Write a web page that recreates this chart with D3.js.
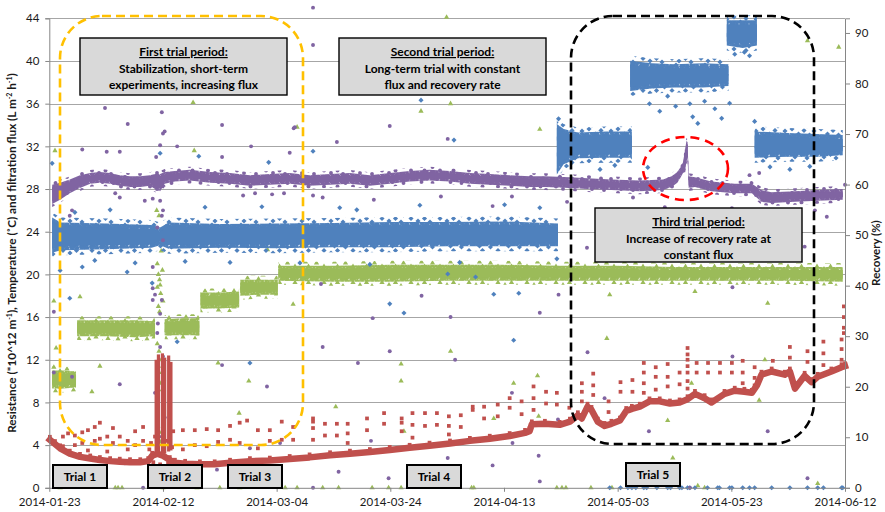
<!DOCTYPE html>
<html>
<head>
<meta charset="utf-8">
<script src="https://cdn.jsdelivr.net/npm/d3@7"></script>
<style>
  body { margin: 0; background: #fff; }
  svg { display: block; font-family: Lato, "Noto Sans", "Liberation Sans", sans-serif; }
</style>
</head>
<body>
<svg id="chart" width="885" height="512"></svg>
<script>
// ---------- axis definitions ----------
const startDate = "2014-01-23";
const endDate = "2014-06-12";
const xTickLabels = ["2014-01-23", "2014-02-12", "2014-03-04", "2014-03-24", "2014-04-13", "2014-05-03", "2014-05-23", "2014-06-12"];
const leftTicks = [0, 4, 8, 12, 16, 20, 24, 28, 32, 36, 40, 44];
const rightTicks = [0, 10, 20, 30, 40, 50, 60, 70, 80, 90];
const leftMax = 44;
const rightMax = 92.9;

// ---------- Recovery (%) - right axis; days since start, dense band low/high, null = break ----------
const recDay = [0.5, 2, 10, 18, 19.5, 21, 30, 40, 50, 60, 70, 80, 89.5, null, 89.3, 90.5, 93, 98, 102.5, null, 102.2, 106, 110, 115, 119.5, null, 119.2, 122, 124.5, null, 124.1, 130, 135, 139.6];
const recLo = [46.5, 47.0, 47.2, 47.5, 48.0, 47.3, 47.5, 47.4, 47.6, 47.6, 47.8, 47.8, 47.8, null, 62.0, 64.0, 65.2, 65.3, 65.3, null, 78.5, 79.0, 79.2, 79.2, 79.5, null, 87.5, 87.0, 87.5, null, 65.3, 65.5, 65.5, 65.8];
const recHi = [53.5, 52.5, 52.3, 52.0, 51.5, 52.5, 52.2, 52.3, 52.4, 52.6, 52.6, 52.7, 52.3, null, 72.0, 71.0, 70.3, 70.5, 70.5, null, 84.5, 84.0, 83.8, 84.0, 83.8, null, 92.5, 92.5, 92.5, null, 70.5, 70.2, 70.0, 69.8];
// isolated recovery readings [day, %]
const recPoints = [
  [0.5, 64.2], [19.5, 66.2], [26.3, 65.6], [38.6, 64.4], [65.4, 76.7], [71.2, 68.8], [46.4, 66.6],
  [3.6, 37.5], [5.8, 43.7], [54.1, 55.0], [59.9, 36.4], [62.4, 34.6], [70.1, 42.3], [75.0, 41.7],
  [78.2, 38.3], [82.6, 38.5], [89.3, 45.3], [81.7, 29.2], [35.3, 24.7], [22.5, 28.9], [18.1, 40.5],
  [13.7, 42.7], [136.4, 57.9], [105.3, 63.4], [113.2, 73.4], [114.1, 72.1], [118.3, 73.1], [119.7, 76.1],
  [1.9, 43.0], [4.5, 54.5], [8.0, 45.0], [10.7, 55.0], [15.1, 44.5], [23.9, 44.8], [27.4, 55.5],
  [31.8, 44.6], [37.4, 55.6], [44.1, 44.5], [51.1, 55.4], [56.4, 44.2], [65.2, 55.9], [72.2, 44.6],
  [80.1, 56.0], [86.3, 55.4], [105.6, 76.0], [107.4, 74.5], [108.8, 77.5], [110.2, 75.5], [112.7, 76.0],
  [115.3, 76.5], [117.1, 75.0], [120.6, 85.8], [122.3, 86.2], [123.2, 85.5], [96.9, 63.0], [99.5, 63.8],
  [126.8, 63.5], [130.3, 63.0], [133.8, 63.6], [124.1, 72.5], [89.6, 73.0], [90.2, 60.5]
];
// recovery logged as zero
const recZeroDays = [98.6, 100.5, 101.8, 102.5, 103.2, 104.6, 105.1, 106.9, 108.8, 109.3, 110.9, 111.3, 112.3, 112.7, 113.6, 115.8, 117.6, 117.9, 119.7, 120.1, 122.0, 123.2, 124.1, 127.1, 130.3, 133.4, 135.2, 136.2, 139.4, 139.6];

// ---------- Filtration flux (L m-2 h-1) - left axis ----------
const fluxDay = [0.5, 2.5, 4.7, null, 4.9, 10, 15, 18.6, null, 20.3, 23, 26.4, null, 26.6, 30, 33.4, null, 33.6, 37, 40.2, null, 40.3, 50, 60, 70, 80, 90, 100, 110, 120, 130, 139.6];
const fluxLo = [9.3, 9.3, 9.4, null, 14.2, 14.2, 14.1, 14.2, null, 14.3, 14.3, 14.3, null, 16.8, 16.8, 16.9, null, 18.0, 18.1, 18.1, null, 19.4, 19.3, 19.3, 19.4, 19.4, 19.4, 19.4, 19.4, 19.4, 19.4, 19.3];
const fluxHi = [11.0, 11.0, 10.9, null, 15.7, 15.7, 15.7, 15.6, null, 15.8, 15.9, 15.9, null, 18.3, 18.3, 18.4, null, 19.5, 19.5, 19.5, null, 20.8, 20.8, 20.9, 20.9, 20.9, 20.8, 20.8, 20.7, 20.7, 20.7, 20.7];
const fluxPoints = [
  [1.0, 31.6], [25.3, 36.1], [25.5, 31.6], [43.6, 33.8], [69.9, 44.1], [65.4, 35.3], [70.6, 36.0], [86.3, 33.6],
  [50.4, 7.6], [61.9, 11.6], [61.9, 10.0], [70.6, 12.8], [62.4, 5.3], [78.2, 6.5], [81.7, 9.8], [85.9, 10.5],
  [86.1, 6.7], [108.8, 6.3], [113.0, 9.8], [124.9, 8.2], [125.9, 12.0], [109.7, 2.8], [135.2, 0.4], [114.1, 0.2],
  [98.1, 14.0], [98.6, 18.1], [113.6, 18.4], [126.4, 17.3], [133.4, 41.9], [138.9, 41.3], [0.8, 17.5], [5.4, 17.9],
  [38.4, 22.3], [42.9, 17.2], [1.2, 13.1], [0.8, 11.3], [8.9, 11.4], [7.5, 9.0], [29.7, 11.7], [35.1, 10.0], [33.4, 7.0],
  [19.0, 21.0], [19.2, 20.0], [19.4, 19.5], [19.0, 18.8], [19.6, 18.2], [19.2, 17.0], [19.4, 16.5], [19.0, 13.5],
  [19.3, 12.8], [19.7, 12.0], [19.2, 11.4], [19.8, 10.8], [20.1, 10.2], [19.5, 9.8], [19.9, 9.2], [19.1, 5.8],
  [19.4, 5.2], [19.8, 4.8], [20.2, 4.6], [19.6, 4.3], [18.9, 26.0], [19.3, 25.5], [19.7, 22.2], [19.9, 20.4],
  [19.5, 19.0], [20.0, 17.5]
];
const fluxZeroDays = [1.9, 11.6, 12.1, 12.8, 20.0, 26.0, 30.0, 33.5, 41.5, 43.6, 48.1, 50.9, 56.8, 59.7, 61.9, 74.3, 74.7, 89.3, 90.2, 90.9, 95.3, 99.0, 115.3];

// ---------- Temperature (°C) - left axis ----------
const tempDay = [0.5, 1.9, 3.6, 5.4, 7.2, 8.9, 10.7, 12.4, 14.2, 16.0, 17.7, 18.6, 19.5, 20.3, 22.1, 24.7, 28.3, 31.8, 35.3, 38.8, 42.3, 45.8, 49.4, 52.9, 56.4, 59.9, 63.4, 66.9, 70.5, 74.0, 77.5, 81.0, 84.5, 87.2, 91.6, 94.7, 98.9, 103.9, 108.0, 109.5, 110.5, 111.0, 111.5, 111.8, 112.1, 112.3, 112.5, 113.6, 116.5, 120.6, 123.6, 125.3, 127.1, 131.2, 135.2, 139.6];
const tempLo = [26.6, 27.0, 27.6, 28.1, 28.5, 28.6, 28.5, 28.3, 28.2, 28.2, 28.3, 28.0, 27.8, 28.5, 28.7, 28.8, 28.6, 28.5, 28.3, 28.4, 28.5, 28.3, 28.4, 28.5, 28.3, 28.5, 28.7, 28.8, 28.7, 28.5, 28.4, 28.3, 28.2, 28.2, 28.1, 28.0, 27.9, 27.8, 27.9, 28.2, 28.6, 29.0, 29.5, 29.6, 30.5, 31.0, 28.1, 28.2, 27.8, 27.6, 27.6, 26.8, 26.7, 26.8, 26.9, 27.0];
const tempHi = [28.4, 28.6, 28.9, 29.3, 29.5, 29.6, 29.5, 29.3, 29.2, 29.2, 29.3, 29.4, 29.4, 29.6, 29.7, 29.8, 29.6, 29.5, 29.3, 29.4, 29.5, 29.3, 29.4, 29.5, 29.3, 29.5, 29.7, 29.8, 29.7, 29.5, 29.4, 29.3, 29.2, 29.2, 29.1, 29.0, 28.9, 28.8, 28.9, 29.2, 29.6, 30.0, 30.5, 31.5, 32.5, 32.4, 29.2, 29.1, 28.7, 28.5, 28.5, 27.9, 27.7, 27.8, 27.9, 28.0];
const tempPoints = [
  [9.8, 35.6], [13.8, 34.1], [5.8, 31.7], [10.1, 31.5], [12.4, 31.5], [19.8, 35.2], [20.0, 33.2], [20.3, 33.4],
  [19.5, 32.1], [22.5, 32.0], [30.4, 34.0], [30.4, 31.0], [35.5, 32.0], [42.3, 31.4], [43.0, 33.7], [18.8, 31.0],
  [46.4, 45.0], [46.4, 41.5], [43.2, 33.8], [59.9, 33.9], [50.6, 32.4], [70.1, 32.7], [3.6, 25.5], [4.0, 26.0],
  [11.6, 27.6], [12.4, 27.2], [16.8, 26.9], [34.1, 27.4], [36.2, 27.6], [39.2, 27.5], [41.3, 27.6], [0.8, 16.5],
  [46.4, 27.4], [48.1, 27.2], [57.1, 27.0], [68.9, 27.3], [78.0, 26.4], [81.4, 27.3], [65.5, 18.0], [47.8, 19.1],
  [56.9, 15.9], [70.6, 16.0], [86.3, 16.4], [89.6, 18.1], [94.6, 22.5], [91.1, 26.8], [48.1, 13.2], [59.9, 12.8],
  [54.3, 11.7], [71.4, 12.0], [56.6, 4.4], [50.9, 1.5], [59.7, 0.9], [70.1, 2.8], [78.0, 2.1], [81.4, 8.9],
  [81.5, 4.2], [86.1, 3.0], [86.3, 0.6], [89.5, 6.4], [94.7, 12.7], [46.4, 0], [0.8, 10.8], [4.0, 10.4],
  [12.4, 9.7], [30.4, 11.5], [38.3, 9.5], [13.3, 2.3], [29.5, 1.7], [35.3, 3.7], [40.6, 4.2], [16.5, 0],
  [97.7, 8.4], [105.5, 5.3], [120.2, 12.3], [126.4, 5.3], [133.4, 0.9], [112.7, 0], [132.9, 22.6], [102.7, 27.2],
  [106.5, 27.9], [108.3, 26.3], [123.2, 29.3], [124.9, 29.5], [134.7, 26.0], [136.8, 25.4], [140.0, 28.4],
  [118.8, 25.9], [120.1, 26.2], [120.2, 18.8],
  [18.2, 27.1], [19.5, 26.9], [19.0, 24.4], [19.8, 25.5], [20.0, 26.0], [18.2, 18.7], [18.6, 18.1], [18.2, 17.6],
  [19.8, 17.6], [19.5, 16.3], [19.1, 15.4], [19.0, 14.5], [19.5, 13.2], [20.0, 12.3], [20.0, 11.7], [18.6, 8.9],
  [20.3, 6.6], [19.8, 4.8], [20.0, 3.8], [18.2, 20.7], [20.0, 23.2]
];

// ---------- Membrane resistance (*10^12 m-1) - left axis ----------
const resDay = [0.1, 1.0, 1.9, 3.6, 5.4, 7.2, 8.9, 10.7, 12.4, 14.2, 16.0, 17.4, 18.1, 19.0, 20.0, 21.2, 22.1, 23.9, 26.5, 29.1, 31.8, 35.3, 38.8, 42.3, 45.8, 49.4, 52.9, 56.4, 59.9, 63.4, 66.9, 70.5, 74.0, 77.5, 81.0, 83.7, 84.5, 84.9, 87.2, 89.8, 91.6, 93.0, 93.7, 94.7, 95.4, 96.5, 97.7, 98.9, 100.4, 101.5, 102.5, 103.9, 105.6, 107.4, 109.2, 110.9, 112.3, 113.6, 115.3, 116.5, 118.8, 120.6, 122.3, 123.6, 124.5, 125.3, 127.1, 129.4, 130.3, 131.2, 132.9, 134.1, 135.2, 137.6, 139.4, 140.0];
const resVal = [4.5, 4.1, 3.7, 3.2, 2.9, 2.75, 2.6, 2.5, 2.45, 2.4, 2.4, 2.5, 3.0, 3.2, 3.0, 2.6, 2.35, 2.25, 2.2, 2.2, 2.35, 2.5, 2.55, 2.7, 2.85, 3.05, 3.2, 3.35, 3.55, 3.75, 3.95, 4.15, 4.4, 4.6, 4.85, 5.15, 5.3, 5.95, 6.0, 5.9, 6.2, 6.8, 6.5, 7.6, 7.3, 6.2, 5.8, 6.0, 6.3, 7.2, 7.4, 7.6, 8.1, 8.1, 7.9, 8.0, 8.3, 8.8, 8.4, 8.0, 8.8, 9.1, 9.0, 8.9, 9.6, 10.6, 10.9, 10.6, 10.9, 9.3, 10.5, 9.9, 10.4, 10.9, 11.3, 11.4];
// short-term experiment excursions (trial 2): day, low, high
const resSpikeDay = [18.8, 19.2, 19.9, 20.3, 21.0, 21.4];
const resSpikeLow = [3.2, 3.0, 3.0, 3.2, 3.4, 3.5];
const resSpikeTop = [12.0, 12.5, 12.6, 12.2, 12.4, 11.8];
// readings taken during cleaning / backwash cycles [day, value]
const resPoints = [
  [2.4, 4.8], [2.4, 3.9], [3.3, 5.1], [4.5, 4.9], [4.5, 4.0], [5.8, 5.2], [5.8, 4.2], [6.8, 5.4], [6.8, 3.5],
  [8.0, 5.7], [8.0, 4.4], [8.9, 6.1], [8.9, 4.6], [10.2, 4.8], [10.2, 3.4], [11.2, 5.6], [11.2, 4.2], [12.4, 4.8],
  [13.8, 4.4], [13.8, 3.6], [15.1, 5.3], [15.1, 4.0], [16.5, 5.7], [16.5, 4.4], [21.8, 5.3], [23.5, 5.4], [23.5, 3.6],
  [25.6, 5.4], [25.6, 4.0], [27.7, 5.5], [27.7, 3.9], [29.7, 5.4], [29.7, 4.3], [31.8, 5.8], [31.8, 4.5], [33.5, 6.1],
  [33.5, 4.2], [34.8, 6.3], [36.7, 5.4], [36.7, 3.7], [38.8, 5.4], [38.8, 4.4], [40.9, 6.2], [40.9, 4.5], [42.9, 5.7],
  [42.9, 4.5], [46.4, 6.5], [46.4, 6.2], [46.4, 5.6], [46.4, 4.5], [48.5, 6.0], [48.5, 4.9], [50.6, 6.0], [50.6, 4.9],
  [52.5, 6.0], [52.5, 5.1], [52.5, 4.2], [55.9, 6.5], [55.9, 5.4], [58.9, 7.0], [58.9, 6.0], [62.0, 6.5], [62.0, 6.1],
  [62.0, 5.3], [63.9, 7.0], [63.9, 5.9], [63.9, 4.7], [66.1, 7.0], [66.1, 5.8], [68.2, 7.0], [68.2, 5.9], [70.3, 6.7],
  [70.3, 5.8], [70.3, 5.0], [72.4, 6.8], [72.4, 5.7], [74.5, 7.6], [74.5, 7.3], [76.5, 7.6], [76.5, 6.5], [78.9, 7.8],
  [78.9, 6.7], [81.0, 8.4], [81.0, 7.5], [83.1, 8.1], [83.1, 6.9], [85.2, 9.5], [85.2, 8.4], [85.2, 7.3], [87.4, 9.0],
  [87.4, 7.9], [89.3, 8.9], [89.3, 7.8], [91.5, 7.5], [93.7, 9.8], [93.7, 9.0], [93.7, 8.1], [95.7, 10.7], [95.7, 9.6],
  [95.7, 8.7], [98.4, 8.1], [98.4, 7.1], [100.5, 9.9], [100.5, 9.0], [102.6, 10.1], [102.6, 9.0], [104.6, 11.7],
  [104.6, 10.8], [104.6, 9.8], [104.6, 8.9], [106.7, 11.3], [106.7, 10.4], [106.7, 9.2], [108.8, 11.6], [108.8, 10.4],
  [108.8, 9.5], [110.9, 10.8], [110.9, 9.7], [112.3, 13.1], [112.3, 12.5], [112.3, 12.0], [112.3, 11.4], [112.3, 10.8],
  [112.3, 10.0], [112.3, 9.3], [113.9, 11.7], [113.9, 10.8], [115.9, 11.7], [115.9, 10.8], [118.0, 11.7], [118.0, 10.8],
  [120.1, 11.7], [120.1, 10.8], [122.0, 11.9], [122.0, 10.8], [122.0, 9.8], [124.1, 11.3], [124.1, 10.3], [124.1, 9.6],
  [127.3, 11.9], [130.3, 13.2], [130.3, 12.2], [133.4, 12.8], [133.4, 11.8], [136.2, 13.7], [136.2, 12.6], [136.2, 11.5],
  [139.4, 13.9], [139.4, 13.0], [139.4, 12.0], [139.8, 17.0], [139.8, 16.0], [139.8, 15.0], [139.8, 14.5],
  [17.6, 3.6], [17.9, 4.2], [18.3, 2.4], [19.5, 2.2], [20.6, 4.4], [21.6, 3.8], [22.0, 2.0], [18.6, 4.8], [20.9, 2.3]
];

// ---------- layout ----------
const plotL = 49.3, plotR = 845, plotT = 18.3, plotB = 487.8;

const colRec = "#4F81BD", colRes = "#C0504D", colFlux = "#9BBB59", colTemp = "#8064A2";
const gridCol = "#a6a6a6", axisCol = "#868686", textCol = "#1a1a1a";

const svg = d3.select("#chart");
const parse = d3.utcParse("%Y-%m-%d");
const t0 = parse(startDate), t1 = parse(endDate);
const dayToDate = d => new Date(t0.getTime() + d * 86400000);

const x = d3.scaleUtc().domain([t0, t1]).range([plotL, plotR]);
const yL = d3.scaleLinear().domain([0, leftMax]).range([plotB, plotT]);
const yR = d3.scaleLinear().domain([0, rightMax]).range([plotB, plotT]);

// spreadsheet-style diamond marker (square turned 45 degrees)
const symbolRhomb = {
  draw(ctx, size) {
    const r = Math.sqrt(size / 2);
    ctx.moveTo(0, -r); ctx.lineTo(r, 0); ctx.lineTo(0, r); ctx.lineTo(-r, 0); ctx.closePath();
  }
};
const mRec = [symbolRhomb, 13], mFlux = [d3.symbolTriangle, 12], mTemp = [d3.symbolCircle, 12], mRes = [d3.symbolSquare, 14];

const defs = svg.append("defs");

// marker textures for the densely logged bands
function makePattern(id, marker, color, w, h, pts) {
  const p = defs.append("pattern").attr("id", id)
    .attr("patternUnits", "userSpaceOnUse").attr("width", w).attr("height", h);
  const d = d3.symbol(marker[0], marker[1])();
  pts.forEach(([px, py]) => {
    for (const ox of [-w, 0, w]) for (const oy of [-h, 0, h]) {
      p.append("path").attr("d", d).attr("transform", `translate(${px + ox},${py + oy})`).attr("fill", color);
    }
  });
}
const densePts = [[1, 1], [4.2, 0.3], [7.3, 1.6], [2.6, 3.2], [5.7, 3.6], [8.6, 4.3], [0.4, 5.4], [4, 5.8], [7, 6.6], [2.2, 7.6]];
const sparsePts = [[2, 3], [9, 1], [15.5, 6], [21, 2.5], [5, 10.5], [12, 13], [18.5, 10.5], [24, 14], [26.5, 7]];
makePattern("recCore", mRec, colRec, 10, 8.2, densePts);
makePattern("recEdge", mRec, colRec, 29, 16, sparsePts);
makePattern("fluxCore", mFlux, colFlux, 10, 8.2, densePts);
makePattern("fluxEdge", mFlux, colFlux, 29, 16, sparsePts);
makePattern("tempCore", mTemp, colTemp, 10, 8.2, densePts);
makePattern("tempEdge", mTemp, colTemp, 29, 16, sparsePts);

// ---------- gridlines ----------
svg.append("g").selectAll("line").data(leftTicks.filter(v => v > 0)).join("line")
  .attr("x1", plotL).attr("x2", plotR)
  .attr("y1", d => Math.round(yL(d)) + 0.5).attr("y2", d => Math.round(yL(d)) + 0.5)
  .attr("stroke", gridCol).attr("stroke-width", 1);

// ---------- data layers ----------
const dataG = svg.append("g");

// band = sparse fringe outside, dense texture on the logged range, solid centre
function band(dayArr, loArr, hiArr, yScale, color, coreFill, edgeFill, edgePx, solidPx) {
  const idx = d3.range(dayArr.length);
  const mk = pad => d3.area()
    .defined(i => loArr[i] != null)
    .x(i => x(dayToDate(dayArr[i])))
    .y0(i => yScale(loArr[i]) + pad)
    .y1(i => Math.min(yScale(hiArr[i]) - pad, yScale(loArr[i]) + pad));
  dataG.append("path").attr("d", mk(edgePx)(idx)).attr("fill", edgeFill);
  dataG.append("path").attr("d", mk(0)(idx)).attr("fill", coreFill);
  dataG.append("path").attr("d", mk(-solidPx)(idx)).attr("fill", color);
}

function points(list, yScale, marker, color) {
  dataG.append("g").selectAll("path").data(list).join("path")
    .attr("d", d3.symbol(marker[0], marker[1])())
    .attr("transform", d => `translate(${x(dayToDate(d[0]))},${yScale(d[1])})`)
    .attr("fill", color);
}

// flux
band(fluxDay, fluxLo, fluxHi, yL, colFlux, "url(#fluxCore)", "url(#fluxEdge)", 4, 3);
points(fluxPoints, yL, mFlux, colFlux);
points(fluxZeroDays.map(d => [d, 0]), yL, mFlux, colFlux);

// recovery
band(recDay, recLo, recHi, yR, colRec, "url(#recCore)", "url(#recEdge)", 5, 4);
points(recPoints, yR, mRec, colRec);
points(recZeroDays.map(d => [d, 0]), yR, mRec, colRec);

// temperature
band(tempDay, tempLo, tempHi, yL, colTemp, "url(#tempCore)", "url(#tempEdge)", 3, 2.5);
points(tempPoints, yL, mTemp, colTemp);

// resistance
dataG.append("g").selectAll("line").data(d3.range(resSpikeDay.length)).join("line")
  .attr("x1", i => x(dayToDate(resSpikeDay[i]))).attr("x2", i => x(dayToDate(resSpikeDay[i])))
  .attr("y1", i => yL(resSpikeLow[i])).attr("y2", i => yL(resSpikeTop[i]))
  .attr("stroke", colRes).attr("stroke-width", 3.2);
points(resPoints, yL, mRes, colRes);
dataG.append("path")
  .attr("d", d3.line().x((d, i) => x(dayToDate(resDay[i]))).y(d => yL(d))(resVal))
  .attr("fill", "none").attr("stroke", colRes).attr("stroke-width", 6.5)
  .attr("stroke-linejoin", "round").attr("stroke-linecap", "square");
// short upward serrations where each logged value sits on the trace
dataG.append("g").selectAll("path").data(resVal).join("path")
  .attr("d", d3.symbol(mRes[0], mRes[1])())
  .attr("transform", (d, i) => `translate(${x(dayToDate(resDay[i]))},${yL(d) - 3})`)
  .attr("fill", colRes);

// ---------- axes ----------
const tickFont = 11.5;
const axL = svg.append("g").attr("transform", `translate(${plotL},0)`)
  .call(d3.axisLeft(yL).tickValues(leftTicks).tickSize(4).tickPadding(6).tickFormat(d3.format("d")));
const axR = svg.append("g").attr("transform", `translate(${plotR},0)`)
  .call(d3.axisRight(yR).tickValues(rightTicks).tickSize(5).tickPadding(5).tickFormat(d3.format("d")));
const axB = svg.append("g").attr("transform", `translate(0,${plotB})`)
  .call(d3.axisBottom(x).tickValues(xTickLabels.map(parse)).tickSize(4).tickPadding(6)
    .tickFormat(d3.utcFormat("%Y-%m-%d")));
[axL, axR, axB].forEach(a => {
  a.select(".domain").attr("stroke", axisCol);
  a.selectAll(".tick line").attr("stroke", axisCol);
  a.selectAll("text").attr("fill", textCol).style("font-size", tickFont + "px")
    .style("font-family", "Lato, 'Noto Sans', sans-serif");
});
axB.select(".domain").attr("d", `M${plotL},0.5H${plotR}`);

// ---------- axis titles ----------
const leftTitle = svg.append("text")
  .attr("transform", `translate(16,${(plotT + plotB) / 2}) rotate(-90)`)
  .attr("text-anchor", "middle").attr("font-weight", "bold").attr("fill", textCol)
  .style("font-size", "11px");
const sup = (t) => leftTitle.append("tspan").attr("baseline-shift", "super").style("font-size", "7px").text(t);
leftTitle.append("tspan").text("Resistance (*10^12 m");
sup("-1");
leftTitle.append("tspan").text("), Temperature (˚C) and filtration flux (L m");
sup("-2");
leftTitle.append("tspan").text(" h");
sup("-1");
leftTitle.append("tspan").text(")");
const ltLen = leftTitle.node().getComputedTextLength();
if (ltLen > 0) leftTitle.style("font-size", (11 * 361 / ltLen).toFixed(2) + "px");

svg.append("text")
  .attr("transform", `translate(880,${(plotT + plotB) / 2}) rotate(-90)`)
  .attr("text-anchor", "middle").attr("font-weight", "bold").attr("fill", textCol)
  .style("font-size", "11.5px").text("Recovery (%)");

// ---------- trial period outlines ----------
const annoG = svg.append("g");
annoG.append("rect").attr("x", 60).attr("y", 16).attr("width", 243).attr("height", 429)
  .attr("rx", 42).attr("ry", 42).attr("fill", "none")
  .attr("stroke", "#FFC000").attr("stroke-width", 2.6).attr("stroke-dasharray", "9,5");
annoG.append("rect").attr("x", 571).attr("y", 16).attr("width", 243).attr("height", 428)
  .attr("rx", 42).attr("ry", 42).attr("fill", "none")
  .attr("stroke", "#000").attr("stroke-width", 2.6).attr("stroke-dasharray", "9,5");
annoG.append("ellipse").attr("cx", 685.5).attr("cy", 168.5).attr("rx", 42.5).attr("ry", 31.5)
  .attr("fill", "none").attr("stroke", "#FF0000").attr("stroke-width", 2.6).attr("stroke-dasharray", "9,6");

// ---------- text boxes ----------
function noteBox(x0, y0, w, h, lines, baselines) {
  const g = annoG.append("g");
  g.append("rect").attr("x", x0).attr("y", y0).attr("width", w).attr("height", h)
    .attr("fill", "#d9d9d9").attr("stroke", "#000").attr("stroke-width", 1.4);
  lines.forEach((t, i) => {
    g.append("text").attr("x", x0 + w / 2).attr("y", baselines[i])
      .attr("text-anchor", "middle").attr("font-weight", "bold").attr("fill", "#000")
      .style("font-size", "12px")
      .style("text-decoration", i === 0 ? "underline" : null)
      .text(t);
  });
}
noteBox(80, 38, 207, 57, ["First trial period:", "Stabilization, short-term", "experiments, increasing flux"], [56, 73, 89]);
noteBox(339, 38, 207, 57, ["Second trial period:", "Long-term trial with constant", "flux and recovery rate"], [56, 73, 89]);
noteBox(595, 208, 207, 54, ["Third trial period:", "Increase of recovery rate at", "constant flux"], [226, 243, 259]);

const trialNames = ["Trial 1", "Trial 2", "Trial 3", "Trial 4", "Trial 5"];
const trialBoxX = [53, 148, 228, 407, 626];
const trialBoxY = [465, 465, 465, 465, 463];
trialNames.forEach((t, i) => {
  const g = annoG.append("g");
  g.append("rect").attr("x", trialBoxX[i]).attr("y", trialBoxY[i]).attr("width", 54).attr("height", 23)
    .attr("fill", "#d9d9d9").attr("stroke", "#000").attr("stroke-width", 2);
  g.append("text").attr("x", trialBoxX[i] + 27).attr("y", trialBoxY[i] + 16)
    .attr("text-anchor", "middle").attr("font-weight", "bold").attr("fill", "#000")
    .style("font-size", "12px").text(t);
});
</script>
</body>
</html>
